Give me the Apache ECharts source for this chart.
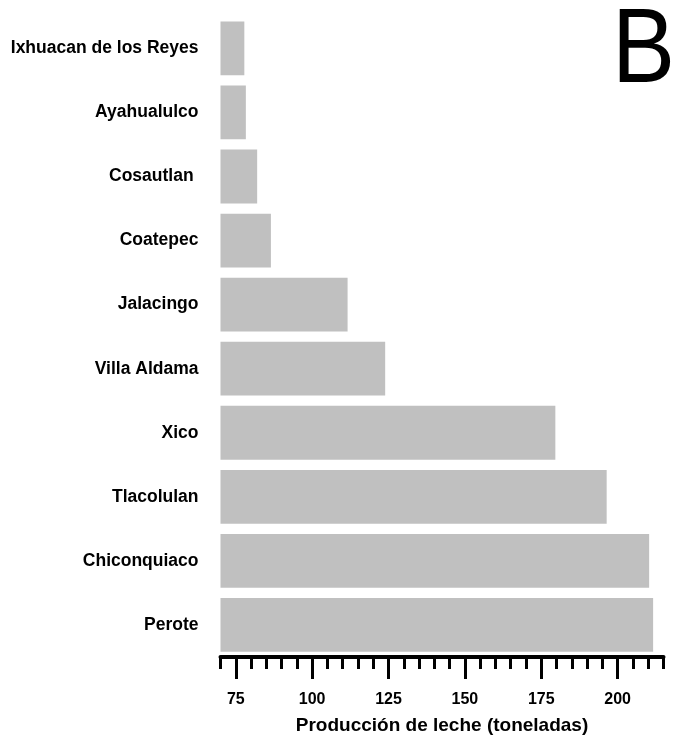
<!DOCTYPE html>
<html>
<head>
<meta charset="utf-8">
<script src="https://cdn.jsdelivr.net/npm/echarts@6/dist/echarts.min.js"></script>
<style>
  html, body { margin: 0; padding: 0; background: #fff; }
  #chart { width: 674px; height: 740px; }
</style>
</head>
<body>
<div id="chart"></div>
<script>
// Municipalities, top to bottom
const municipios = [
  'Ixhuacan de los Reyes', 'Ayahualulco', 'Cosautlan ', 'Coatepec', 'Jalacingo',
  'Villa Aldama', 'Xico', 'Tlacolulan', 'Chiconquiaco', 'Perote'
];
// Milk production (tonnes)
const produccion = [77.8, 78.3, 82.0, 86.5, 111.6, 123.9, 179.6, 196.4, 210.3, 211.6];
// Axis range and ticks
const xMin = 70;
const xMax = 215;
const tickLabels = [75, 100, 125, 150, 175, 200];
const minorTicks = [];
for (let v = xMin; v <= xMax; v += 5) minorTicks.push(v);

const FONT = '"Liberation Sans", Arial, sans-serif';

const chart = echarts.init(document.getElementById('chart'));
chart.setOption({
  animation: false,
  backgroundColor: '#ffffff',
  grid: { left: 220.5, right: 10.5, top: 16.3, bottom: 82.4, containLabel: false },
  xAxis: [
    {
      type: 'value', min: xMin, max: xMax, position: 'bottom',
      splitLine: { show: false },
      axisLine: { show: true, lineStyle: { color: '#000', width: 4 } },
      axisTick: { show: true, customValues: minorTicks, length: 12, lineStyle: { color: '#000', width: 3 } },
      axisLabel: {
        customValues: tickLabels, margin: 35,
        color: '#000', fontFamily: FONT, fontWeight: 'bold', fontSize: 16
      },
      name: 'Producción de leche (toneladas)',
      nameLocation: 'middle', nameGap: 59,
      nameTextStyle: { color: '#000', fontFamily: FONT, fontWeight: 'bold', fontSize: 19 }
    },
    {
      type: 'value', min: xMin, max: xMax, position: 'bottom', gridIndex: 0,
      splitLine: { show: false },
      axisLine: { show: false },
      axisTick: { show: true, customValues: tickLabels, length: 22, lineStyle: { color: '#000', width: 3 } },
      axisLabel: { show: false }
    }
  ],
  yAxis: {
    type: 'category', data: municipios, inverse: true,
    axisLine: { show: false }, axisTick: { show: false }, splitLine: { show: false },
    axisLabel: { margin: 22, color: '#000', fontFamily: FONT, fontWeight: 'bold', fontSize: 17.5 }
  },
  series: [{
    type: 'bar', data: produccion, xAxisIndex: 0,
    barCategoryGap: '16%',
    itemStyle: { color: '#c0c0c0' },
    silent: true
  }],
  graphic: [{
    type: 'text', x: 612, y: 1, scaleX: 0.9,
    style: { text: 'B', fill: '#000', font: '105px "Liberation Sans", Arial, sans-serif' }
  }]
});
</script>
</body>
</html>
